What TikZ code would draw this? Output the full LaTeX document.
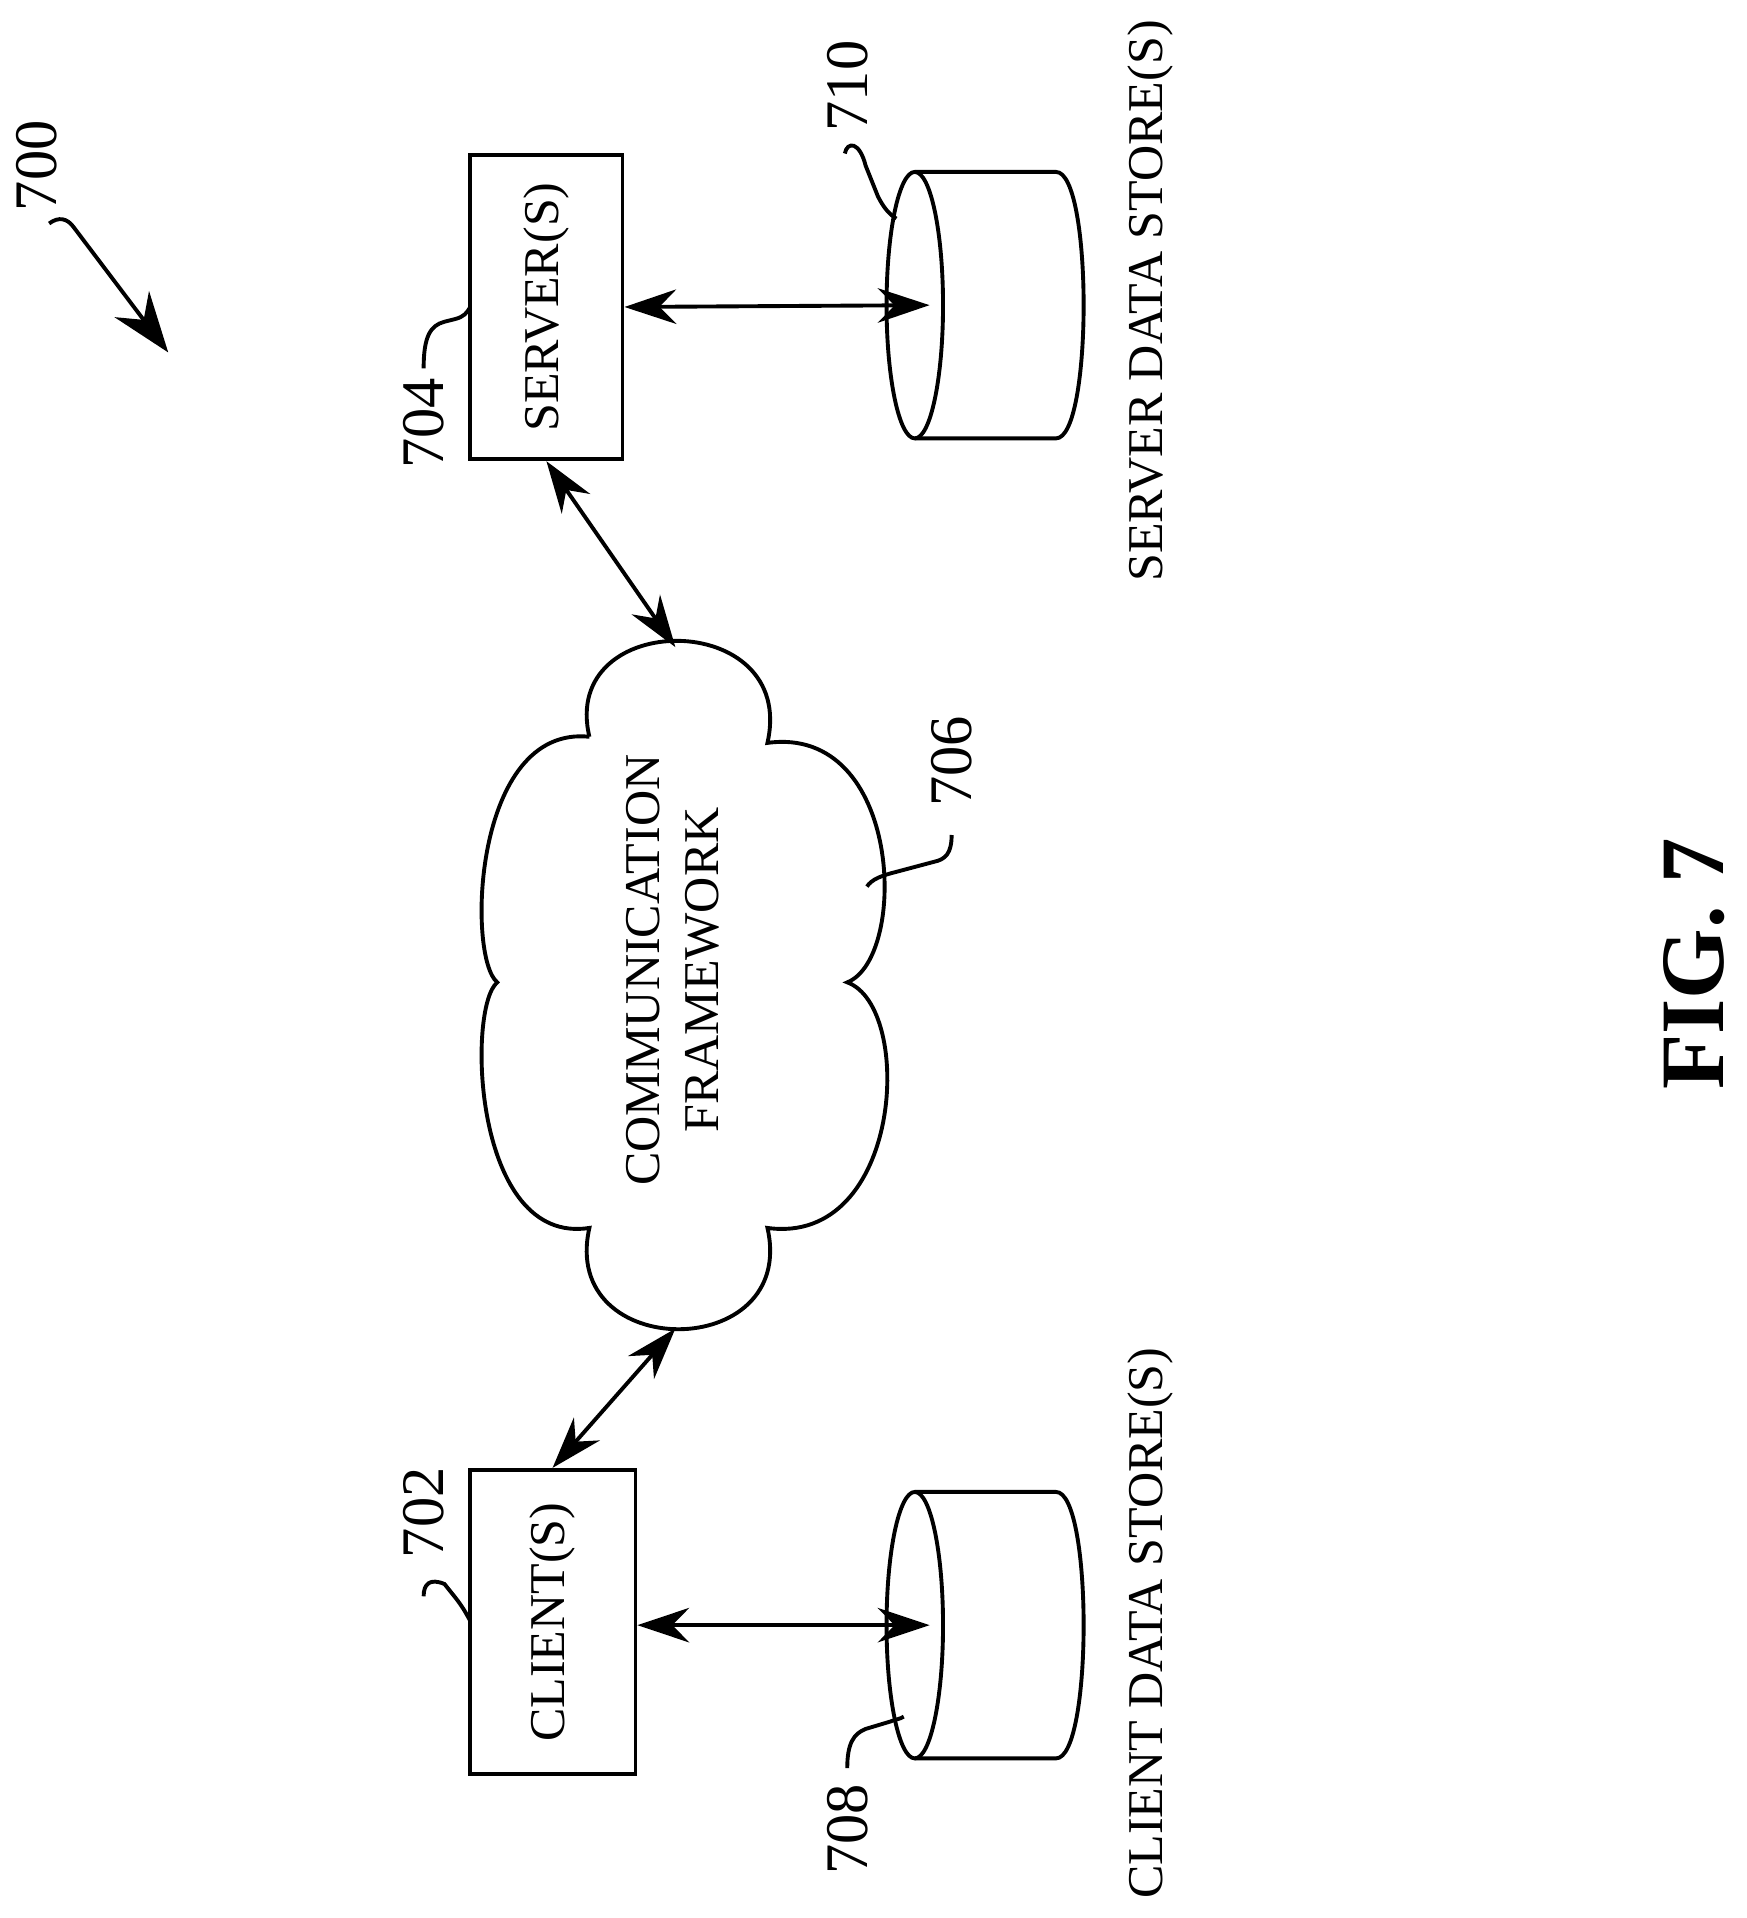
\documentclass[tikz,border=0pt]{standalone}
\usepackage{fontspec}
\setmainfont{Liberation Serif}
\usetikzlibrary{arrows.meta}
\begin{document}
\begin{tikzpicture}[x=0.1mm,y=-0.1mm,line width=0.9pt,
  lbl/.style={font=\fontsize{11.6}{13.5}\selectfont,rotate=90,inner sep=0pt},
  num/.style={font=\fontsize{14}{16}\selectfont,rotate=90,inner sep=0pt},
  box/.style={draw,minimum width=12.4mm,minimum height=24.8mm,inner sep=0pt},
  dbl/.style={{Stealth[length=12pt,width=8pt]}-{Stealth[length=12pt,width=8pt]}}]
\useasboundingbox (0,0) rectangle (1422,1562);
% boxes
\node[box] (srv) at (445,250) {};
\node[lbl] at (srv) {SERVER(S)};
\node[box,minimum width=13.5mm] (cli) at (450,1321) {};
\node[lbl] at (cli) {CLIENT(S)};
% cylinders
\foreach \n/\y in {sds/248.5,cds/1323.5}{
  \draw (745,\y) ellipse [x radius=23,y radius=108.5];
  \draw (745,\y-108.5) -- (860,\y-108.5) .. controls (890,\y-108.5) and (890,\y+108.5) .. (860,\y+108.5) -- (745,\y+108.5);
  \coordinate (\n) at (757,\y);
}
% cloud
\draw (480,600) .. controls (455,495) and (650,495) .. (625,605)
  .. controls (735,590) and (740,780) .. (690,800)
  .. controls (745,820) and (735,1015) .. (625,1000)
  .. controls (650,1110) and (455,1110) .. (480,1000)
  .. controls (385,1015) and (380,820) .. (405,800)
  .. controls (380,780) and (385,590) .. (480,600);
\coordinate (cloudtop) at (550,527);
\coordinate (cloudbot) at (550,1082);
\node[lbl,align=center] (cf) at (548,790) {COMMUNICATION\\FRAMEWORK};
% connectors
\draw[dbl] (srv.east) -- (sds);
\draw[dbl] (cli.east|-cds) -- (cds);
\draw[dbl] (srv.south) -- (cloudtop);
\draw[dbl] (cli.north) -- (cloudbot);
% texts
\node[lbl] (sdt) at (937,245) {SERVER DATA STORE(S)};
\node[lbl] (cdt) at (937,1322) {CLIENT DATA STORE(S)};
\node[font=\bfseries\fontsize{21}{24}\selectfont,rotate=90] (fig) at (1380,785) {FIG. 7};
% ref numbers
\node[num] (n700) at (30,135) {700};
\coordinate (a700) at (137,287);
\draw[-{Stealth[length=14pt,width=10pt]}] (40,182) .. controls (48,176) and (55,178) .. (60,185) -- (a700);
\node[num] (n704) at (345,345) {704};
\draw (345,300) .. controls (345,275) and (350,265) .. (362,262) -- (370,260) .. controls (378,258) and (380,255) .. (383,250);
\node[num] (n702) at (345,1232) {702};
\draw (345,1300) .. controls (345,1290) and (350,1285) .. (362,1290) -- (370,1300) .. controls (378,1310) and (380,1315) .. (383,1320);
\node[num] (n710) at (690,70) {710};
\draw (688,125) .. controls (690,115) and (700,115) .. (705,135) -- (715,160) .. controls (720,170) and (725,175) .. (730,178);
\node[num] (n708) at (690,1490) {708};
\draw (690,1440) .. controls (690,1420) and (695,1412) .. (705,1408) -- (725,1402) .. controls (730,1400) and (733,1400) .. (736,1398);
\node[num] (n706) at (775,620) {706};
\draw (775,680) .. controls (775,695) and (770,700) .. (760,702) -- (730,710) .. controls (718,713) and (710,716) .. (706,722);
\end{tikzpicture}
\end{document}
